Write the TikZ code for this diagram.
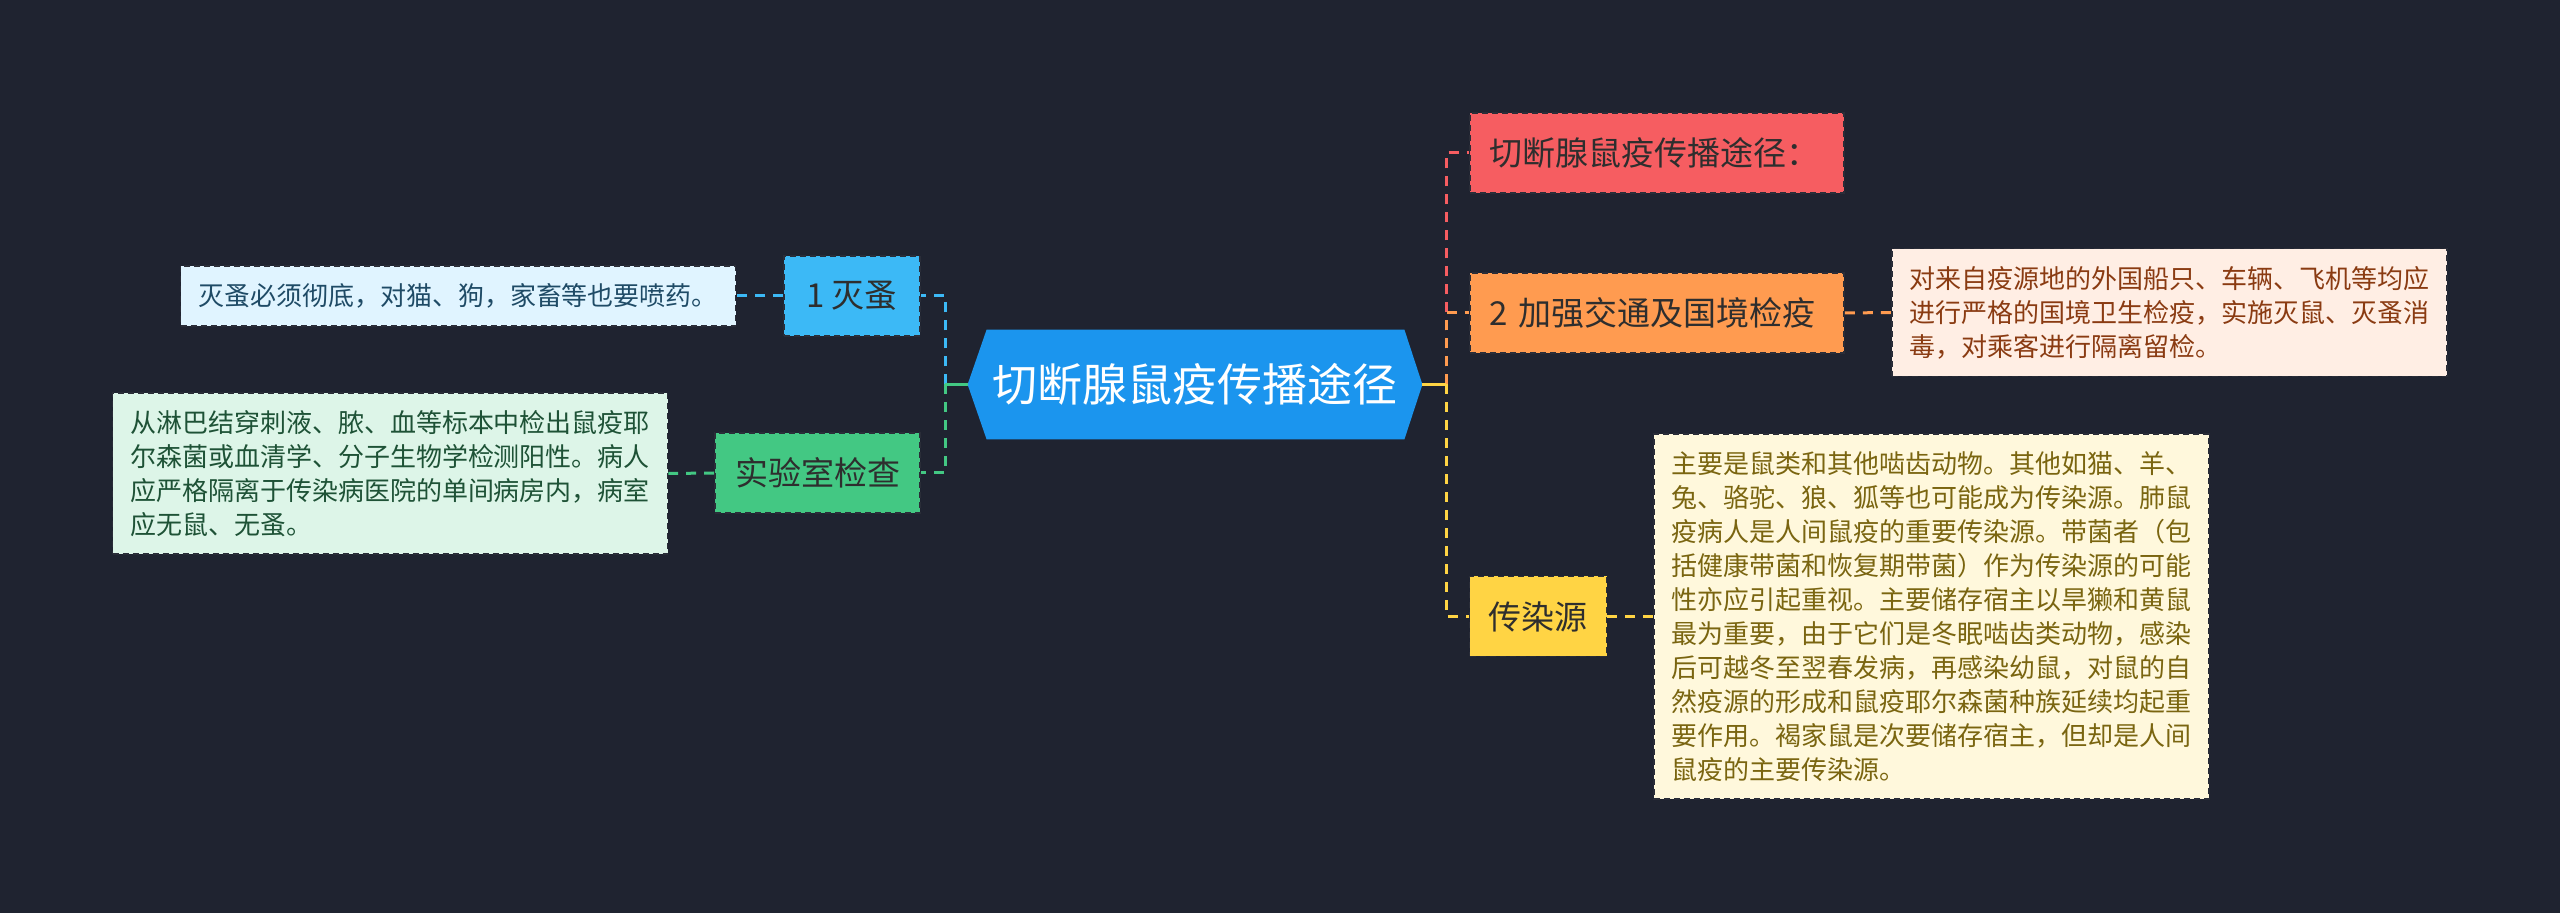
\documentclass[tikz,border=0pt]{standalone}
\usepackage{fontspec}
\setmainfont{Noto Sans CJK SC}
\usetikzlibrary{backgrounds}
\definecolor{bg}{HTML}{1F2330}
\definecolor{hubblue}{HTML}{1B95EE}
\definecolor{cred}{HTML}{F65D61}
\definecolor{corange}{HTML}{FF9B50}
\definecolor{cyellow}{HTML}{FFD444}
\definecolor{cblue}{HTML}{3CB9F6}
\definecolor{cgreen}{HTML}{43C883}
\definecolor{topictext}{HTML}{2E2E2E}
\definecolor{boxborder}{HTML}{2A2D38}
\definecolor{dorangefill}{HTML}{FFEEE4}
\definecolor{dorangetext}{HTML}{8A3B12}
\definecolor{dyellowfill}{HTML}{FFF8DC}
\definecolor{dyellowtext}{HTML}{7A6510}
\definecolor{dbluefill}{HTML}{E0F4FF}
\definecolor{dbluetext}{HTML}{1F4B66}
\definecolor{dgreenfill}{HTML}{DDF5E8}
\definecolor{dgreentext}{HTML}{1E5236}
\begin{document}
\begin{tikzpicture}[x=0.5pt,y=-0.5pt,
  hub/.style={inner sep=0pt, minimum width=227pt, minimum height=54.5pt, text=white,
    font=\fontsize{22.5pt}{26pt}\selectfont},
  topic/.style={minimum height=40pt, inner xsep=9.5pt, inner ysep=4pt, text=topictext,
    font=\fontsize{16.5pt}{20pt}\selectfont, draw=boxborder, line width=0.8pt,
    dash pattern=on 3pt off 2pt},
  desc/.style={text width=260pt, inner xsep=8.75pt, inner ysep=8.75pt, align=left,
    font=\fontsize{13pt}{17pt}\selectfont, draw=boxborder, line width=0.8pt,
    dash pattern=on 3pt off 2pt},
  link/.style={line width=1.5pt, dash pattern=on 5pt off 4pt},
  stub/.style={line width=1.5pt}]
\useasboundingbox (0,0) rectangle (2560,913);
% central node
\node[hub] (c) at (1195,384.5) {切断腺鼠疫传播途径};
\begin{scope}[on background layer]
  \fill[bg] (0,0) rectangle (2560,913);
  \fill[hubblue] ([xshift=9.5pt]c.north west) -- ([xshift=-9pt]c.north east) -- (c.east)
    -- ([xshift=-9pt]c.south east) -- ([xshift=9.5pt]c.south west) -- (c.west) -- cycle;
\end{scope}
\coordinate (jr) at (1446,384.5);
\coordinate (jl) at (945,384.5);
% right topics
\node[topic, fill=cred, text width=168pt, align=left] (t1) at (1657,153) {切断腺鼠疫传播途径：};
\node[topic, fill=corange, text width=168pt, align=left] (t2) at (1657,313) {2 加强交通及国境检疫};
\node[topic, fill=cyellow, minimum width=68pt] (t3) at (1538,616.5) {传染源};
% left topics
\node[topic, fill=cblue, minimum width=68pt] (t4) at (852,296) {1 灭蚤};
\node[topic, fill=cgreen, minimum width=102.5pt] (t5) at (817.5,473) {实验室检查};
% descriptions
\node[desc, fill=dorangefill, text=dorangetext] (d2) at (2169.5,312.5)
  {对来自疫源地的外国船只、车辆、飞机等均应\\进行严格的国境卫生检疫，实施灭鼠、灭蚤消\\毒，对乘客进行隔离留检。};
\node[desc, fill=dyellowfill, text=dyellowtext] (d3) at (1931.5,616.5)
  {主要是鼠类和其他啮齿动物。其他如猫、羊、\\兔、骆驼、狼、狐等也可能成为传染源。肺鼠\\疫病人是人间鼠疫的重要传染源。带菌者（包\\括健康带菌和恢复期带菌）作为传染源的可能\\性亦应引起重视。主要储存宿主以旱獭和黄鼠\\最为重要，由于它们是冬眠啮齿类动物，感染\\后可越冬至翌春发病，再感染幼鼠，对鼠的自\\然疫源的形成和鼠疫耶尔森菌种族延续均起重\\要作用。褐家鼠是次要储存宿主，但却是人间\\鼠疫的主要传染源。};
\node[desc, fill=dbluefill, text=dbluetext] (d4) at (458,296)
  {灭蚤必须彻底，对猫、狗，家畜等也要喷药。};
\node[desc, fill=dgreenfill, text=dgreentext] (d5) at (390,473.5)
  {从淋巴结穿刺液、脓、血等标本中检出鼠疫耶\\尔森菌或血清学、分子生物学检测阳性。病人\\应严格隔离于传染病医院的单间病房内，病室\\应无鼠、无蚤。};
% connectors right
\draw[link, cred] (jr) |- (t1.west);
\draw[link, corange] (jr) |- (t2.west);
\draw[link, cyellow] (jr) |- (t3.west);
\draw[stub, cyellow] (c.east) -- (jr);
% connectors left
\draw[link, cblue] (jl) |- (t4.east);
\draw[link, cgreen] (jl) |- (t5.east);
\draw[stub, cgreen] (c.west) -- (jl);
% topic to description
\draw[link, corange] (t2.east) -- (d2.west);
\draw[link, cyellow] (t3.east) -- (d3.west);
\draw[link, cblue] (t4.west) -- (d4.east);
\draw[link, cgreen] (t5.west) -- (d5.east);
\end{tikzpicture}
\end{document}
